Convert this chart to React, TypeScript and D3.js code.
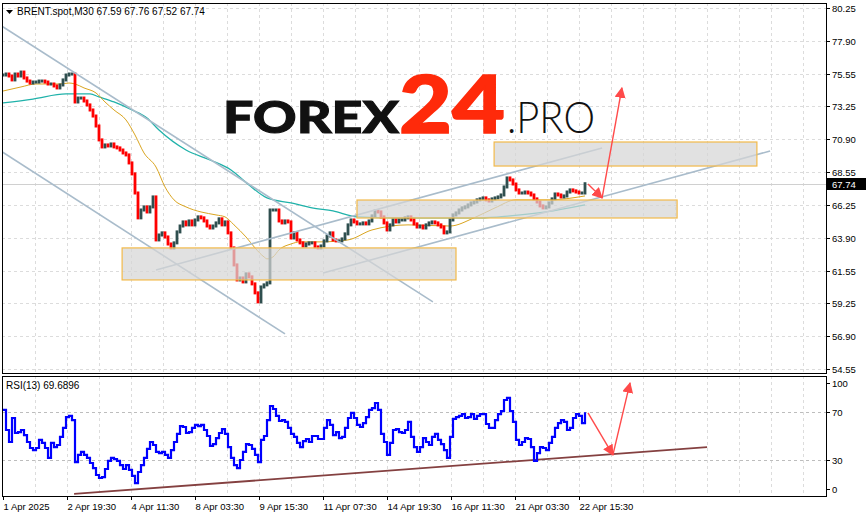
import React, { useRef, useEffect } from 'react';
import * as d3 from 'd3';

// close prices, one value per ~3 bars
const closes = [
  75.48, 75.55, 75.41, 75.13, 75.55, 75.41, 75.69, 75.27, 75.05, 74.91, 74.98, 74.98, 75.05, 75.05, 74.98, 74.84, 74.84, 74.70, 74.56, 74.77, 75.13, 75.48, 75.55, 75.55,
  73.56, 73.84, 73.84, 73.63, 73.35, 72.99, 72.56, 71.85, 70.86, 70.36, 70.50, 70.43, 70.57, 70.36, 70.29, 70.14, 69.93, 69.79, 69.22, 68.44, 67.08, 65.31, 65.87, 66.09, 65.73, 66.09, 66.80,
  63.74, 64.09, 64.24, 63.95, 63.45, 63.17, 63.53, 64.31, 64.73, 65.02, 64.81, 65.09, 64.81, 65.16, 65.38, 65.31, 65.09, 64.73, 64.59, 64.73, 64.95, 65.24, 64.81, 65.02, 64.24, 63.17, 61.96, 60.89, 61.03, 60.75, 61.32, 61.11, 60.61, 59.97, 59.33, 60.39, 60.54, 60.68, 65.87, 65.87, 65.87, 65.09, 64.95, 65.09, 65.02, 63.88, 64.24, 63.74,
  63.53, 63.31, 63.45, 63.53, 63.53, 63.24, 63.17, 63.31, 63.67, 64.02, 64.24, 63.74, 63.67, 63.67, 63.81, 64.17, 64.81, 65.16, 65.02, 64.88, 64.88, 64.95, 64.88, 65.09, 65.45, 65.80, 65.73, 65.38, 64.95, 64.45, 64.81, 65.16, 65.02, 65.16, 65.16, 65.31, 65.38, 65.16, 64.88, 64.66, 64.73, 64.59, 64.81, 64.95, 65.02, 64.95, 64.81, 64.66,
  64.24, 64.31, 65.16, 65.52, 65.66, 65.87, 66.02, 66.09, 66.23, 66.37, 66.44, 66.59, 66.66, 66.73, 66.59, 66.51, 66.66, 66.73, 66.80, 66.94, 67.51, 68.15, 68.01, 67.72, 67.30, 67.08, 67.08, 67.15, 67.08, 66.94, 66.66, 66.44, 66.16, 66.02, 66.09, 66.37, 66.66, 67.01, 66.94, 66.80, 66.87, 67.15, 67.30, 67.23, 67.15, 67.08, 67.08, 67.74,
];

// [bar index, value]
const maOrange = [
  [0, 74.34], [6, 74.63], [11, 74.84], [19, 74.84], [22, 74.91], [24, 74.84], [27, 74.56], [31, 74.2], [34, 73.56], [37, 72.99], [41, 72.28], [44, 71.21], [47, 69.93], [51, 68.93], [54, 67.51], [57, 66.59], [61, 66.09], [66, 65.73], [71, 65.52], [74, 65.38], [77, 64.81], [81, 63.95], [84, 63.17], [87, 62.53], [88, 62.39], [90, 62.53], [92, 63.03], [96, 63.45], [99, 63.6], [106, 63.6], [115, 63.74], [123, 64.45], [135, 64.81], [149, 64.73], [157, 65.31], [164, 66.02], [171, 66.59], [182, 66.59], [194, 66.87],
];
const maTeal = [
  [0, 73.49], [10, 73.77], [21, 74.13], [29, 74.13], [32, 73.92], [37, 73.56], [43, 72.99], [48, 72.42], [52, 71.56], [61, 70.14], [69, 69.43], [76, 68.72], [82, 67.65], [88, 66.73], [96, 66.37], [103, 66.02], [110, 65.8], [118, 65.38], [132, 65.31], [149, 65.31], [159, 65.31], [169, 65.45], [181, 65.73], [194, 66.23],
];

const rsi = [
  71.7, 55.0, 45.0, 65.0, 52.5, 53.3, 55.0, 50.8, 45.0, 40.0, 38.3, 40.0, 46.7, 44.2, 40.0, 31.7, 44.2, 40.8, 42.5, 49.2, 56.7, 65.8, 66.7, 63.3,
  28.3, 34.2, 36.7, 34.2, 31.7, 27.5, 23.3, 17.5, 15.0, 15.8, 22.5, 29.2, 31.7, 30.8, 29.2, 25.8, 22.5, 25.8, 21.7, 16.7, 10.8, 20.0, 25.8, 31.7, 39.2, 45.0, 42.5,
  36.7, 35.8, 36.7, 34.2, 31.7, 38.3, 45.0, 51.7, 58.3, 57.5, 52.5, 53.3, 56.7, 59.2, 58.3, 59.2, 55.0, 50.0, 41.7, 43.3, 48.3, 52.5, 55.8, 51.7, 40.8, 31.7, 25.8, 23.3, 30.0, 36.7, 43.3, 42.5, 39.2, 34.2, 28.3, 46.7, 50.0, 63.3, 75.0, 72.5, 66.7, 62.5, 63.3, 61.7, 56.7, 51.7, 49.2, 44.2,
  40.8, 45.8, 47.5, 45.0, 50.0, 50.0, 47.5, 47.5, 56.7, 63.3, 59.2, 50.8, 53.3, 48.3, 49.2, 56.7, 65.0, 69.2, 65.0, 59.2, 57.5, 60.8, 65.8, 71.7, 73.3, 77.5, 71.7, 51.7, 45.0, 34.2, 44.2, 55.0, 55.8, 53.3, 52.5, 55.0, 61.7, 49.2, 40.8, 36.7, 40.8, 48.3, 45.0, 42.5, 49.2, 51.7, 46.7, 43.3,
  38.3, 31.7, 49.2, 64.2, 65.8, 66.7, 68.3, 65.0, 65.8, 68.3, 64.2, 66.7, 68.3, 68.3, 60.0, 56.7, 56.7, 63.3, 68.3, 70.8, 80.0, 81.7, 70.8, 61.7, 46.7, 42.5, 45.0, 48.3, 47.5, 40.8, 29.2, 35.8, 40.8, 40.0, 38.3, 44.2, 49.2, 56.7, 60.8, 63.3, 61.7, 55.0, 56.7, 65.0, 68.3, 66.7, 60.8, 69.7,
];

const priceTicks = [80.25, 77.9, 75.55, 73.25, 70.9, 68.55, 66.25, 63.9, 61.55, 59.25, 56.9, 54.55];
const rsiTicks = [100, 70, 30, 0];
const timeLabels = ['1 Apr 2025', '2 Apr 19:30', '4 Apr 11:30', '8 Apr 03:30', '9 Apr 15:30', '11 Apr 07:30', '14 Apr 19:30', '16 Apr 11:30', '21 Apr 03:30', '22 Apr 15:30'];

// drawings: [[bar, price], [bar, price]]
const channelLines = [
  [[-1, 79.04], [143.3, 59.33]],
  [[-1, 70.11], [94, 57.05]],
  [[51, 61.6], [199.7, 70.29]],
  [[106.7, 61.39], [255.7, 70.07]],
];
const zones = [
  [[39.7, 63.17], [151, 60.89]],
  [[118, 66.58], [224.7, 65.3]],
  [[163.7, 70.71], [251.3, 69.0]],
];
const priceArrows = [
  [[195, 67.72], [199.7, 66.73]],
  [[199.7, 66.73], [206.3, 74.56]],
];
const rsiArrows = [
  [[195, 69.2], [203.3, 34.2]],
  [[203.3, 34.2], [209, 94.2]],
];
const rsiTrend = [[23.7, 1.7], [234.7, 40.8]];

const lastPrice = 67.74;
const font = 'Liberation Sans, Arial, sans-serif';

const App = () => {
  const svgRef = useRef(null);

  useEffect(() => {
    const svg = d3.select(svgRef.current);
    svg.selectAll('*').remove();

    const left = 2, right = 826;
    const mainTop = 3, mainBottom = 373;
    const rsiTop = 376, rsiBottom = 496;

    const x = d3.scaleLinear().domain([0, 194]).range([3, 585]);
    const y = d3.scaleLinear().domain([54.55, 80.25]).range([369, 8]);
    const yr = d3.scaleLinear().domain([0, 100]).range([rsiBottom, rsiTop]);

    svg.append('rect').attr('width', 866).attr('height', 517).attr('fill', '#fff');

    const defs = svg.append('defs');
    defs.append('clipPath').attr('id', 'clipMain')
      .append('rect').attr('x', left).attr('y', mainTop).attr('width', right - left).attr('height', mainBottom - mainTop);
    defs.append('clipPath').attr('id', 'clipRsi')
      .append('rect').attr('x', left).attr('y', rsiTop).attr('width', right - left).attr('height', rsiBottom - rsiTop);
    defs.append('marker')
      .attr('id', 'head')
      .attr('viewBox', '0 0 10 10')
      .attr('refX', 9).attr('refY', 5)
      .attr('markerWidth', 11).attr('markerHeight', 11)
      .attr('markerUnits', 'userSpaceOnUse')
      .attr('orient', 'auto')
      .append('path').attr('d', 'M0,0 L10,5 L0,10 Z').attr('fill', '#ff4a4a');

    // grid
    const grid = svg.append('g').attr('stroke', '#dcdcdc').attr('stroke-dasharray', '3,3').attr('stroke-width', 1);
    d3.range(35, right, 32).forEach(gx => {
      grid.append('line').attr('x1', gx + 0.5).attr('x2', gx + 0.5).attr('y1', mainTop).attr('y2', mainBottom);
      grid.append('line').attr('x1', gx + 0.5).attr('x2', gx + 0.5).attr('y1', rsiTop).attr('y2', rsiBottom);
    });
    priceTicks.forEach(p => {
      grid.append('line').attr('x1', left).attr('x2', right).attr('y1', Math.round(y(p)) + 0.5).attr('y2', Math.round(y(p)) + 0.5);
    });
    [70, 30].forEach(v => {
      grid.append('line').attr('x1', left).attr('x2', right).attr('y1', Math.round(yr(v)) + 0.5).attr('y2', Math.round(yr(v)) + 0.5)
        .attr('stroke', '#bdbdbd');
    });

    // logo
    const logo = svg.append('g');
    logo.append('text').attr('x', 223).attr('y', 133).attr('font-family', 'Lato, Roboto, sans-serif').attr('font-weight', 900)
      .attr('font-size', 43).attr('fill', '#111').attr('stroke', '#111').attr('stroke-width', 1)
      .attr('textLength', 176).attr('lengthAdjust', 'spacingAndGlyphs').text('FOREX');
    logo.append('text').attr('x', 399).attr('y', 133).attr('font-family', 'Lato, Roboto, sans-serif').attr('font-weight', 900)
      .attr('font-size', 80).attr('fill', '#ff2a0a').attr('stroke', '#ff2a0a').attr('stroke-width', 1.5)
      .attr('textLength', 106).attr('lengthAdjust', 'spacingAndGlyphs').text('24');
    logo.append('text').attr('x', 507).attr('y', 133).attr('font-family', 'Lato, Roboto, sans-serif').attr('font-weight', 300)
      .attr('font-size', 43).attr('fill', '#111').attr('textLength', 88).attr('lengthAdjust', 'spacingAndGlyphs').text('.PRO');

    const main = svg.append('g').attr('clip-path', 'url(#clipMain)');

    // current price line
    main.append('line').attr('x1', left).attr('x2', right)
      .attr('y1', Math.round(y(lastPrice)) + 0.5).attr('y2', Math.round(y(lastPrice)) + 0.5)
      .attr('stroke', '#d0d0d0');

    const maLine = d3.line().x(d => x(d[0])).y(d => y(d[1])).curve(d3.curveMonotoneX);
    main.append('path').datum(maTeal).attr('d', maLine).attr('fill', 'none').attr('stroke', '#20b2aa').attr('stroke-width', 1.3);
    main.append('path').datum(maOrange).attr('d', maLine).attr('fill', 'none').attr('stroke', '#daa520').attr('stroke-width', 1);

    // bars
    main.selectAll('.bar')
      .data(closes)
      .enter().append('rect')
      .attr('class', 'bar')
      .attr('x', (d, i) => x(i) - 1.4)
      .attr('width', 2.8)
      .attr('y', (d, i) => y(Math.max(d, i > 0 ? closes[i - 1] : d)) - 1.5)
      .attr('height', (d, i) => Math.abs(y(d) - y(i > 0 ? closes[i - 1] : d)) + 3)
      .attr('fill', (d, i) => (i > 0 && d < closes[i - 1] ? '#ff0000' : '#2f4f4f'));

    // channel lines
    const seg = d3.line().x(d => x(d[0])).y(d => y(d[1]));
    channelLines.forEach(l => {
      main.append('path').attr('d', seg(l)).attr('stroke', '#a9bccb').attr('stroke-width', 1.6).attr('fill', 'none');
    });

    // zones
    zones.forEach(z => {
      main.append('rect')
        .attr('x', x(z[0][0])).attr('y', y(z[0][1]))
        .attr('width', x(z[1][0]) - x(z[0][0])).attr('height', y(z[1][1]) - y(z[0][1]))
        .attr('fill', '#d6d6d6').attr('fill-opacity', 0.72)
        .attr('stroke', '#f2b94a').attr('stroke-width', 1.2);
    });

    priceArrows.forEach(a => {
      main.append('path').attr('d', seg(a)).attr('stroke', '#ff4a4a').attr('stroke-width', 1.4)
        .attr('fill', 'none').attr('marker-end', 'url(#head)');
    });

    // rsi panel
    const rsiG = svg.append('g').attr('clip-path', 'url(#clipRsi)');
    const rseg = d3.line().x(d => x(d[0])).y(d => yr(d[1]));
    rsiG.append('path').attr('d', rseg(rsiTrend)).attr('stroke', '#844040').attr('stroke-width', 1.8).attr('fill', 'none');
    rsiG.append('path').datum(rsi)
      .attr('d', d3.line().x((d, i) => x(i)).y(d => yr(d)).curve(d3.curveStepAfter))
      .attr('fill', 'none').attr('stroke', '#0000ff').attr('stroke-width', 2.2);
    rsiArrows.forEach(a => {
      rsiG.append('path').attr('d', rseg(a)).attr('stroke', '#ff4a4a').attr('stroke-width', 1.4)
        .attr('fill', 'none').attr('marker-end', 'url(#head)');
    });

    // frames
    svg.append('rect').attr('x', left + 0.5).attr('y', mainTop + 0.5).attr('width', right - left).attr('height', mainBottom - mainTop)
      .attr('fill', 'none').attr('stroke', '#000');
    svg.append('rect').attr('x', left + 0.5).attr('y', rsiTop + 0.5).attr('width', right - left).attr('height', rsiBottom - rsiTop)
      .attr('fill', 'none').attr('stroke', '#000');

    // price axis
    priceTicks.forEach(p => {
      const py = Math.round(y(p)) + 0.5;
      svg.append('line').attr('x1', right).attr('x2', right + 4).attr('y1', py).attr('y2', py).attr('stroke', '#000');
      svg.append('text').attr('x', right + 6).attr('y', py + 3.5).attr('font-family', font).attr('font-size', 9.5)
        .attr('fill', '#000').text(d3.format('.2f')(p));
    });
    const ly = Math.round(y(lastPrice));
    svg.append('rect').attr('x', right + 1).attr('y', ly - 6).attr('width', 40).attr('height', 12).attr('fill', '#000');
    svg.append('text').attr('x', right + 6).attr('y', ly + 3.5).attr('font-family', font).attr('font-size', 9.5)
      .attr('fill', '#fff').text(d3.format('.2f')(lastPrice));

    // rsi axis
    rsiTicks.forEach(v => {
      const ry = v === 100 ? yr(v) + 7 : v === 0 ? yr(v) - 7 : yr(v);
      svg.append('line').attr('x1', right).attr('x2', right + 4).attr('y1', ry + 0.5).attr('y2', ry + 0.5).attr('stroke', '#000');
      svg.append('text').attr('x', right + 6).attr('y', ry + 3.5).attr('font-family', font).attr('font-size', 9.5)
        .attr('fill', '#000').text(v);
    });

    // time axis
    timeLabels.forEach((t, i) => {
      const tx = Math.round(x(i * 64 / 3)) + 0.5;
      svg.append('line').attr('x1', tx).attr('x2', tx).attr('y1', rsiBottom).attr('y2', rsiBottom + 4).attr('stroke', '#000');
      svg.append('text').attr('x', tx).attr('y', 510).attr('font-family', font).attr('font-size', 9.5)
        .attr('fill', '#000').text(t);
    });

    // titles
    svg.append('path').attr('d', 'M6,10 L13,10 L9.5,14 Z').attr('fill', '#000');
    svg.append('text').attr('x', 17).attr('y', 15).attr('font-family', font).attr('font-size', 10)
      .attr('fill', '#000').text('BRENT.spot,M30  67.59 67.76 67.52 67.74');
    svg.append('text').attr('x', 6).attr('y', 389).attr('font-family', font).attr('font-size', 10)
      .attr('fill', '#000').text('RSI(13) 69.6896');
  }, []);

  return (
    <div style={{ position: 'absolute', left: 0, top: 0, width: 866, height: 517 }}>
      <svg ref={svgRef} width={866} height={517} style={{ display: 'block' }}></svg>
    </div>
  );
};

export default App;
